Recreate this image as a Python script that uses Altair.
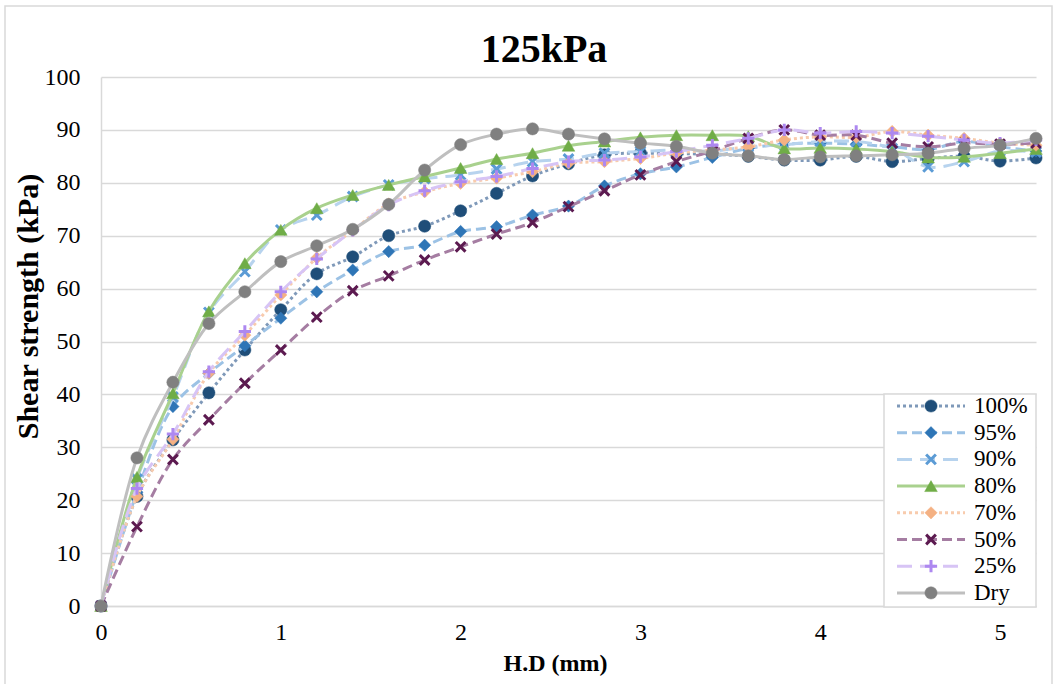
import altair as alt
import pandas as pd

# Horizontal displacement (mm) shared by every test
X_MM = [0.0, 0.2, 0.4, 0.6, 0.8, 1.0, 1.2, 1.4, 1.6, 1.8, 2.0, 2.2, 2.4, 2.6,
        2.8, 3.0, 3.2, 3.4, 3.6, 3.8, 4.0, 4.2, 4.4, 4.6, 4.8, 5.0, 5.2]

# Shear strength (kPa) at 125 kPa normal stress, by degree of saturation
S100 = [0, 20.7, 31.4, 40.3, 48.4, 56.0, 62.8, 66.0, 70.0, 71.8, 74.7, 78.0, 81.3, 83.6,
        85.3, 85.6, 85.5, 85.4, 85.0, 84.3, 84.3, 85.0, 84.0, 84.6, 85.0, 84.1, 84.7]
S95 = [0, 21.5, 37.7, 44.0, 49.2, 54.4, 59.4, 63.5, 67.0, 68.2, 70.8, 71.7, 73.9, 75.6,
       79.4, 81.7, 83.0, 84.8, 86.5, 87.3, 87.5, 87.3, 86.8, 86.3, 87.8, 86.8, 86.0]
S90 = [0, 24.0, 39.5, 55.5, 63.2, 71.1, 73.9, 77.4, 79.6, 80.8, 81.5, 82.6, 84.0, 84.5,
       85.6, 85.9, 86.2, 86.0, 86.8, 87.2, 87.8, 87.8, 86.5, 83.0, 84.0, 86.0, 85.8]
S80 = [0, 24.4, 40.2, 55.7, 64.8, 71.1, 75.2, 77.7, 79.6, 81.2, 82.8, 84.5, 85.6, 87.0,
       87.8, 88.6, 89.0, 89.0, 88.8, 86.5, 86.6, 86.4, 85.9, 84.8, 84.9, 85.6, 86.4]
S70 = [0, 20.7, 31.5, 44.0, 51.2, 58.8, 65.8, 71.0, 76.0, 78.3, 79.9, 80.9, 82.1, 83.7,
       84.0, 84.6, 85.6, 86.2, 86.8, 88.1, 88.7, 88.6, 89.7, 89.0, 88.4, 87.5, 87.1]
S50 = [0, 15.0, 27.7, 35.2, 42.1, 48.4, 54.6, 59.6, 62.4, 65.4, 67.9, 70.3, 72.5, 75.5,
       78.5, 81.5, 84.0, 86.0, 88.4, 90.0, 89.0, 89.0, 87.5, 86.8, 87.5, 87.3, 87.5]
S25 = [0, 22.2, 32.5, 44.3, 51.9, 59.4, 65.6, 71.0, 75.8, 78.5, 80.2, 81.2, 82.7, 84.0,
       84.3, 84.9, 85.9, 87.1, 88.4, 90.0, 89.4, 89.7, 89.4, 88.8, 88.1, 87.5, 88.1]
SDRY = [0, 28.0, 42.3, 53.4, 59.4, 65.1, 68.1, 71.2, 75.9, 82.4, 87.2, 89.2, 90.2, 89.2,
        88.3, 87.5, 86.9, 85.6, 85.1, 84.4, 84.9, 85.1, 85.3, 85.6, 86.5, 87.1, 88.4]

SERIES = ["100%", "95%", "90%", "80%", "70%", "50%", "25%", "Dry"]
VALUES = [S100, S95, S90, S80, S70, S50, S25, SDRY]
TITLE = "125kPa"

X_PATH = "M-1,-1L1,1M-1,1L1,-1"
PLUS_PATH = "M0,-1L0,1M-1,0L1,0"

# line colour, dash pattern, marker shape / colour / size / fill
STYLE = {
    "100%": dict(line="#7f99b9", dash=[3, 3], shape="circle", mark="#1f4e79", size=150, filled=True),
    "95%": dict(line="#9cc2e5", dash=[10, 5], shape="diamond", mark="#2e75b6", size=150, filled=True),
    "90%": dict(line="#b7d3ee", dash=[15, 8], shape=X_PATH, mark="#5b9bd5", size=95, filled=False),
    "80%": dict(line="#a9d18e", dash=None, shape="triangle-up", mark="#70ad47", size=160, filled=True),
    "70%": dict(line="#f8cbad", dash=[3, 3], shape="diamond", mark="#f4b183", size=150, filled=True),
    "50%": dict(line="#a57da2", dash=[10, 5], shape=X_PATH, mark="#5c1a50", size=95, filled=False),
    "25%": dict(line="#d7c4f5", dash=[15, 8], shape=PLUS_PATH, mark="#ad88f0", size=150, filled=False),
    "Dry": dict(line="#bfbfbf", dash=None, shape="circle", mark="#808080", size=150, filled=True),
}

FONT = "Liberation Serif"
GRID = "#d9d9d9"
W, H = 935, 529

x_enc = alt.X(
    "x:Q",
    scale=alt.Scale(domain=[0, 5.2], nice=False, zero=False),
    axis=alt.Axis(
        values=[0, 1, 2, 3, 4, 5], format="d", grid=False, ticks=False, tickSize=0,
        labelFlush=False, labelPadding=14, labelFont=FONT, labelFontSize=24,
        labelColor="black", domainColor=GRID, domainWidth=1.5,
        title="H.D (mm)", titleFont=FONT, titleFontSize=24, titleFontWeight="bold",
        titleColor="black", titleX=454, titleY=57, titleAlign="center", titleBaseline="middle",
    ),
)
y_enc = alt.Y(
    "value:Q",
    scale=alt.Scale(domain=[0, 100], nice=False),
    axis=alt.Axis(
        values=list(range(0, 101, 10)), grid=True, gridColor=GRID, gridWidth=1.5,
        ticks=False, tickSize=0, labelPadding=21, labelFont=FONT, labelFontSize=24,
        labelColor="black", domainColor=GRID, domainWidth=1.5,
        title="Shear strength (kPa)", titleFont=FONT, titleFontSize=30, titleFontWeight="bold",
        titleColor="black", titleX=-73, titleY=229, titleAngle=270, titleAlign="center",
        titleBaseline="middle",
    ),
)

one = pd.DataFrame({"k": [0]})

layers = [
    # outer chart frame
    alt.Chart(one).mark_rect(fillOpacity=0, stroke=GRID, strokeWidth=1.5).encode(
        x=alt.value(-96), x2=alt.value(951), y=alt.value(-71), y2=alt.value(700)
    ),
    # chart title
    alt.Chart(one).mark_text(
        align="center", baseline="middle", font=FONT, fontSize=40, fontWeight="bold", color="black"
    ).encode(x=alt.value(443), y=alt.value(-27), text=alt.value(TITLE)),
]

for name, vals in zip(SERIES, VALUES):
    st = STYLE[name]
    df = pd.DataFrame({"x": X_MM, "value": vals})
    line_kw = dict(color=st["line"], strokeWidth=3, interpolate="catmull-rom")
    if st["dash"]:
        line_kw["strokeDash"] = st["dash"]
    layers.append(alt.Chart(df).mark_line(**line_kw).encode(x=x_enc, y=y_enc))
    if st["filled"]:
        pt = alt.Chart(df).mark_point(shape=st["shape"], filled=True, fill=st["mark"],
                                      stroke=st["mark"], strokeWidth=0.5, size=st["size"], opacity=1)
    else:
        pt = alt.Chart(df).mark_point(shape=st["shape"], filled=False, stroke=st["mark"],
                                      strokeWidth=3, size=st["size"], opacity=1)
    layers.append(pt.encode(x=x_enc, y=y_enc))

# legend box
layers.append(
    alt.Chart(one).mark_rect(fill="white", stroke=GRID, strokeWidth=1.5).encode(
        x=alt.value(783), x2=alt.value(935), y=alt.value(317), y2=alt.value(530)
    )
)
for i, name in enumerate(SERIES):
    st = STYLE[name]
    ly = 329 + 26.7 * i
    rule_kw = dict(color=st["line"], strokeWidth=3)
    if st["dash"]:
        rule_kw["strokeDash"] = st["dash"]
    layers.append(alt.Chart(one).mark_rule(**rule_kw).encode(
        x=alt.value(796), x2=alt.value(864), y=alt.value(ly)))
    if st["filled"]:
        lp = alt.Chart(one).mark_point(shape=st["shape"], filled=True, fill=st["mark"],
                                       stroke=st["mark"], strokeWidth=0.5, size=st["size"], opacity=1)
    else:
        lp = alt.Chart(one).mark_point(shape=st["shape"], filled=False, stroke=st["mark"],
                                       strokeWidth=3, size=st["size"], opacity=1)
    layers.append(lp.encode(x=alt.value(830), y=alt.value(ly)))
    layers.append(alt.Chart(one).mark_text(
        align="left", baseline="middle", font=FONT, fontSize=23, color="black"
    ).encode(x=alt.value(873), y=alt.value(ly), text=alt.value(name)))

chart = alt.layer(*layers).properties(
    width=W,
    height=H,
    autosize=alt.AutoSizeParams(type="none"),
    padding={"left": 101, "top": 77, "right": 23, "bottom": 78},
    background="white",
).configure_view(stroke=None)

chart.save("out.html", embed_options={"renderer": "svg", "actions": False})
